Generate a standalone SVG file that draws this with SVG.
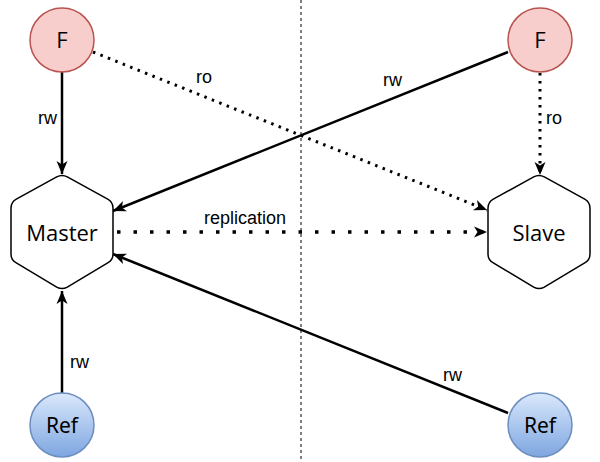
<svg xmlns="http://www.w3.org/2000/svg" width="600" height="462" viewBox="0 0 600 462">
<style>
.solid{fill:none;stroke:#000;stroke-width:2.5}
.dot{fill:none;stroke:#000;stroke-width:3;stroke-dasharray:2.5 5.5}
.rep{fill:none;stroke:#000;stroke-width:3.5;stroke-dasharray:3.5 13}
.lbl{font-family:"Liberation Sans",Arial,sans-serif;font-size:18px;fill:#000}
.fnode{fill:#f8cecc;stroke:#b85450;stroke-width:1.5}
.rnode{fill:url(#blue);stroke:#6c8ebf;stroke-width:1.5}
.hex{fill:#fff;stroke:#000;stroke-width:1.5}
.ntxt{font-family:"Open Sans","Noto Sans",sans-serif;font-size:22px;fill:#000;text-anchor:middle}
.rtxt{font-family:"Noto Sans","Open Sans",sans-serif;font-size:21px;fill:#000;text-anchor:middle}
</style>
<defs>
<linearGradient id="blue" x1="0" y1="0" x2="0" y2="1">
<stop offset="0" stop-color="#dae8fc"/>
<stop offset="1" stop-color="#7ea6e0"/>
</linearGradient>
<marker id="arr" markerUnits="userSpaceOnUse" markerWidth="14" markerHeight="12" viewBox="0 0 14 12" refX="13" refY="6" orient="auto">
<path d="M0,0.5 L13,6 L0,11.5 L3.5,6 Z" fill="#000"/>
</marker>
<path id="hexp" d="M67.3,176.9 L107.7,199.1 Q113,202 113,208 L113,254 Q113,260 107.7,262.9 L67.3,287.1 Q62,290 56.7,287.1 L16.3,262.9 Q11,260 11,254 L11,208 Q11,202 16.3,199.1 L56.7,176.9 Q62,174 67.3,176.9 Z"/>
</defs>
<rect width="600" height="462" fill="#fff"/>
<line x1="301" y1="0" x2="301" y2="462" stroke="#000" stroke-width="1" stroke-dasharray="3 3"/>
<g id="connectors">
<line class="solid" x1="62" y1="72" x2="62" y2="174" marker-end="url(#arr)"/>
<line class="dot" x1="93" y1="52" x2="487" y2="210" marker-end="url(#arr)"/>
<line class="solid" x1="508" y1="52" x2="113" y2="211" marker-end="url(#arr)"/>
<line class="dot" x1="540" y1="73" x2="540" y2="175" marker-end="url(#arr)"/>
<line class="rep" x1="117" y1="232" x2="487" y2="232" marker-end="url(#arr)"/>
<line class="solid" x1="62" y1="393" x2="62" y2="291" marker-end="url(#arr)"/>
<line class="solid" x1="508" y1="413" x2="113" y2="254" marker-end="url(#arr)"/>
<text class="lbl" x="38" y="124">rw</text>
<text class="lbl" x="196" y="83">ro</text>
<text class="lbl" x="383" y="86">rw</text>
<text class="lbl" x="546" y="124">ro</text>
<text class="lbl" x="204" y="224">replication</text>
<text class="lbl" x="70" y="368">rw</text>
<text class="lbl" x="443" y="381">rw</text>
</g>
<g id="F1"><circle class="fnode" cx="62" cy="40" r="32"/><text class="ntxt" x="62" y="48">F</text></g>
<g id="F2"><circle class="fnode" cx="540" cy="40" r="32"/><text class="ntxt" x="540" y="48">F</text></g>
<g id="Master"><use href="#hexp" class="hex"/><text class="ntxt" x="62" y="241">Master</text></g>
<g id="Slave"><use href="#hexp" class="hex" transform="translate(477,0)"/><text class="ntxt" x="539" y="241">Slave</text></g>
<g id="Ref1"><circle class="rnode" cx="62" cy="425" r="32"/><text class="rtxt" x="62" y="433">Ref</text></g>
<g id="Ref2"><circle class="rnode" cx="540" cy="425" r="32"/><text class="rtxt" x="540" y="433">Ref</text></g>
</svg>
